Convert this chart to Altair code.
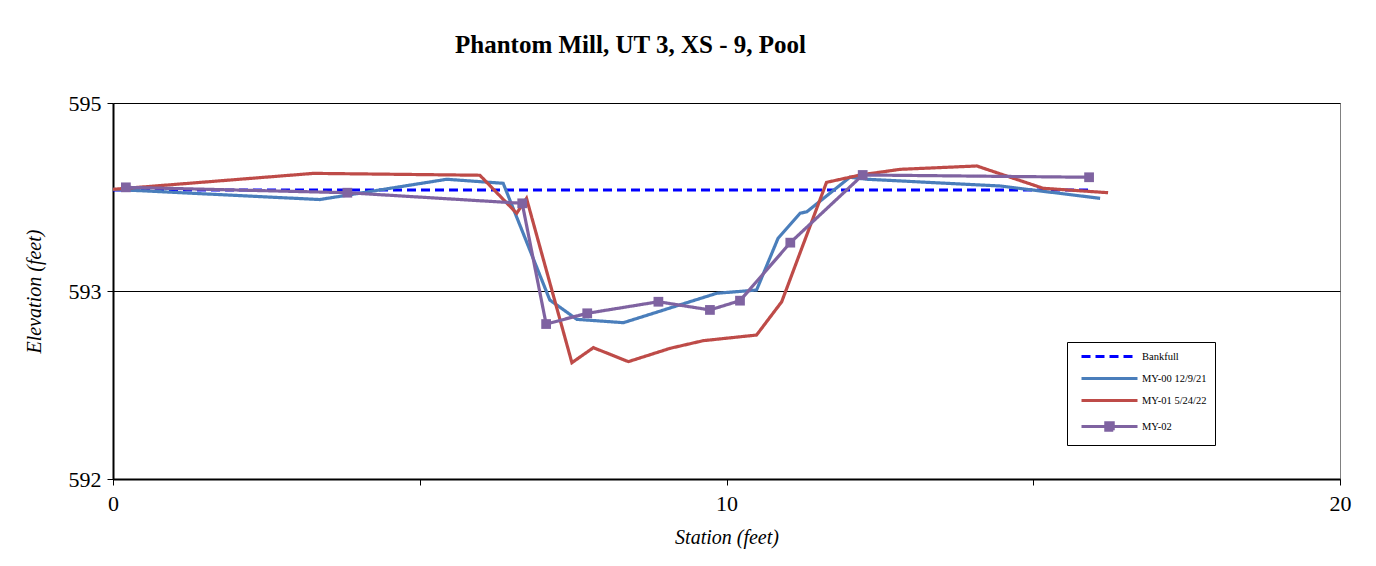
import altair as alt
import pandas as pd

# Cross-section survey: station (ft) vs. elevation (ft)
series_names = ["Bankfull", "MY-00 12/9/21", "MY-01 5/24/22", "MY-02"]
series_colors = ["#0000FF", "#4A7EBB", "#BE4B48", "#7F63A1"]
series_dashes = [[9, 5], [1, 0], [1, 0], [1, 0]]

bankfull_station = [0.0, 15.92]
bankfull_elev = [594.152, 594.152]

my00_station = [0.0, 3.37, 5.44, 6.36, 7.12, 7.56, 8.32, 9.84, 10.49, 10.84,
                11.20, 11.31, 12.01, 12.29, 14.46, 16.09]
my00_elev = [594.157, 594.081, 594.232, 594.202, 593.333, 593.189, 593.164,
             593.383, 593.407, 593.792, 593.979, 593.990, 594.247, 594.232,
             594.182, 594.090]

my01_station = [0.0, 3.27, 5.98, 6.58, 6.74, 7.48, 7.83, 8.40, 9.08, 9.62,
                10.49, 10.90, 11.63, 12.18, 12.83, 14.08, 15.16, 16.22]
my01_elev = [594.157, 594.276, 594.262, 593.979, 594.090, 592.866, 592.978,
             592.874, 592.973, 593.030, 593.072, 593.320, 594.209, 594.264,
             594.306, 594.331, 594.165, 594.132]

my02_station = [0.21, 3.82, 6.67, 7.06, 7.73, 8.89, 9.73, 10.22, 11.04,
                12.22, 15.91]
my02_elev = [594.172, 594.132, 594.053, 593.154, 593.234, 593.320, 593.259,
             593.328, 593.760, 594.264, 594.247]

# Axis scale (labels are rounded to whole feet)
y_domain = [592.0, 594.8]
y_ticks = [592.0, 593.4, 594.8]
x_ticks = [0, 5, 10, 15, 20]

frames = []
for name, xs, ys in zip(
    series_names,
    [bankfull_station, my00_station, my01_station, my02_station],
    [bankfull_elev, my00_elev, my01_elev, my02_elev],
):
    frames.append(pd.DataFrame({"series": name, "station": xs, "elev": ys}))
df = pd.concat(frames, ignore_index=True)
df_my02 = df[df["series"] == "MY-02"]

SERIF = "Liberation Serif"

# Legend glyphs: a long stroke, and a stroke with a solid square for MY-02
line_glyph = "M0,0H11.2"
marker_glyph = ("M0,0H11.2M4.85,-0.75H6.35V0.75H4.85Z"
                "M4.85,-0.5H6.35M4.85,0H6.35M4.85,0.5H6.35")
legend_shapes = [line_glyph, line_glyph, line_glyph, marker_glyph]

x_enc = alt.X(
    "station:Q",
    scale=alt.Scale(domain=[0, 20], nice=False, zero=False),
    axis=alt.Axis(
        title="Station (feet)",
        values=x_ticks,
        labelExpr="datum.value % 10 == 0 ? datum.label : ''",
        labelFlush=False,
        grid=False,
    ),
)
y_enc = alt.Y(
    "elev:Q",
    scale=alt.Scale(domain=y_domain, nice=False, zero=False),
    axis=alt.Axis(
        title="Elevation (feet)",
        values=y_ticks,
        format=".0f",
        labelFlush=False,
        grid=True,
        gridColor="#000000",
        gridWidth=1,
    ),
)
color_enc = alt.Color(
    "series:N",
    scale=alt.Scale(domain=series_names, range=series_colors),
    sort=series_names,
    title=None,
)

lines = alt.Chart(df).mark_line(strokeWidth=3.2).encode(
    x=x_enc,
    y=y_enc,
    color=color_enc,
    strokeDash=alt.StrokeDash(
        "series:N",
        scale=alt.Scale(domain=series_names, range=series_dashes),
        sort=series_names,
        title=None,
    ),
)

points = alt.Chart(df_my02).mark_point(
    shape="square", filled=True, size=95, opacity=1
).encode(x=x_enc, y=y_enc, color=color_enc)

legend_layer = alt.Chart(df_my02).transform_filter("false").mark_point(
    filled=True, opacity=1
).encode(
    x=x_enc,
    y=y_enc,
    color=color_enc,
    shape=alt.Shape(
        "series:N",
        scale=alt.Scale(domain=series_names, range=legend_shapes),
        sort=series_names,
        title=None,
    ),
)

chart = (
    alt.layer(lines, points, legend_layer)
    .properties(
        width=1227,
        height=376,
        title=alt.TitleParams(
            "Phantom Mill, UT 3, XS - 9, Pool",
            font=SERIF,
            fontSize=25,
            fontWeight="bold",
            color="#000000",
            anchor="middle",
            dx=-96,
            offset=34,
        ),
        padding={"left": 113, "top": 103, "right": 36, "bottom": 87},
        autosize=alt.AutoSizeParams(type="none"),
        background="#FFFFFF",
    )
    .configure_view(stroke="#808080", strokeWidth=1)
    .configure_axis(
        domainColor="#000000",
        domainWidth=2,
        tickColor="#000000",
        tickWidth=1,
        tickSize=6,
        labelFont=SERIF,
        labelFontSize=22,
        labelColor="#000000",
        labelPadding=5,
        titleFont=SERIF,
        titleFontSize=20,
        titleFontStyle="italic",
        titleFontWeight="normal",
        titleColor="#000000",
    )
    .configure_axisY(titlePadding=24, labelPadding=6)
    .configure_axisX(titlePadding=13, labelPadding=8)
    .configure_legend(
        orient="none",
        legendX=954,
        legendY=239,
        padding=8,
        rowPadding=9,
        strokeColor="#000000",
        fillColor="#FFFFFF",
        symbolSize=100,
        symbolStrokeWidth=3,
        labelFont=SERIF,
        labelFontSize=10.5,
        labelColor="#000000",
        labelOffset=54,
    )
)

chart.save("out.html", embed_options={"renderer": "svg", "actions": False})
